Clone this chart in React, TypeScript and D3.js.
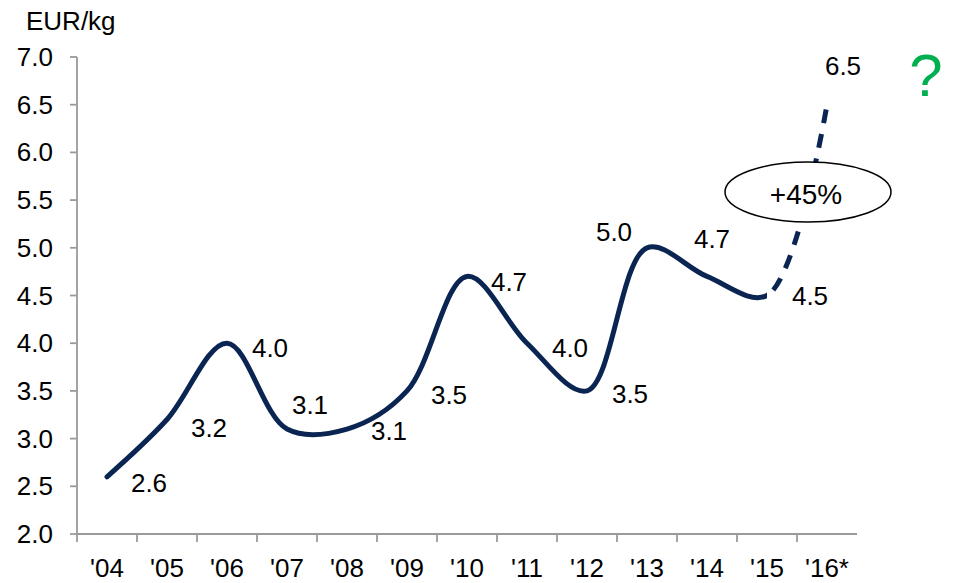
import React from "react";
import * as d3 from "d3";

// data
const years = ["'04", "'05", "'06", "'07", "'08", "'09", "'10", "'11", "'12", "'13", "'14", "'15", "'16*"];
const prices = [2.6, 3.2, 4.0, 3.1, 3.1, 3.5, 4.7, 4.0, 3.5, 5.0, 4.7, 4.5, 6.5];
const yTicks = [2.0, 2.5, 3.0, 3.5, 4.0, 4.5, 5.0, 5.5, 6.0, 6.5, 7.0];
// where each value label sits relative to its point
const labelOffsets: [number, number][] = [
  [42, 6], [42, 8], [43, 5], [23, -24], [42, 2], [42, 4], [42, 6],
  [43, 5], [43, 3], [-33, -16], [5, -37], [43, 0], [16, -39],
];
const forecastFrom = 11; // '15 -> '16* is dashed

const W = 955;
const H = 583;
const margin = { left: 77, right: 98, top: 57, bottom: 49 };
const navy = "#0a2552";
const axisGray = "#9a9a9a";
const font = "'Liberation Sans', Arial, sans-serif";
const fs = 26;

export default function App() {
  const x = d3
    .scaleBand<string>()
    .domain(years)
    .range([margin.left, W - margin.right]);
  const y = d3
    .scaleLinear()
    .domain([2, 7])
    .range([H - margin.bottom, margin.top]);

  const pts: [number, number][] = prices.map((v, i) => [x(years[i])! + x.bandwidth() / 2, y(v)]);
  const line = d3.line().curve(d3.curveCatmullRom.alpha(0.5));
  const path = line(pts) || "";
  const splitX = pts[forecastFrom][0];

  return (
    <svg width={W} height={H} style={{ position: "absolute", left: 0, top: 0 }} fontFamily={font}>
      <defs>
        <clipPath id="solid">
          <rect x={0} y={0} width={splitX} height={H} />
        </clipPath>
        <clipPath id="dashed">
          <rect x={splitX} y={0} width={W - splitX} height={H} />
        </clipPath>
      </defs>

      {/* unit */}
      <text x={26} y={30} fontSize={fs} fill="#000">EUR/kg</text>

      {/* y axis */}
      <line x1={margin.left} x2={margin.left} y1={y(7)} y2={y(2)} stroke={axisGray} strokeWidth={1.8} />
      {yTicks.map((t) => (
        <g key={t}>
          <line x1={margin.left - 7} x2={margin.left} y1={y(t)} y2={y(t)} stroke={axisGray} strokeWidth={1.8} />
          <text x={53} y={y(t)} textAnchor="end" dominantBaseline="central" fontSize={fs} fill="#000">
            {d3.format(".1f")(t)}
          </text>
        </g>
      ))}

      {/* x axis */}
      <line x1={margin.left} x2={W - margin.right} y1={y(2)} y2={y(2)} stroke={axisGray} strokeWidth={1.8} />
      {years.map((yr) => (
        <g key={yr}>
          <line x1={x(yr)!} x2={x(yr)!} y1={y(2)} y2={y(2) + 8} stroke={axisGray} strokeWidth={1.8} />
          <text x={x(yr)! + x.bandwidth() / 2} y={577} textAnchor="middle" fontSize={fs} fill="#000">
            {yr}
          </text>
        </g>
      ))}

      {/* price line */}
      <path d={path} fill="none" stroke={navy} strokeWidth={5} strokeLinecap="round" clipPath="url(#solid)" />
      <path
        d={path}
        fill="none"
        stroke={navy}
        strokeWidth={5}
        strokeDasharray="14 11"
        clipPath="url(#dashed)"
      />

      {/* value labels */}
      {prices.map((v, i) => (
        <text
          key={i}
          x={pts[i][0] + labelOffsets[i][0]}
          y={pts[i][1] + labelOffsets[i][1]}
          textAnchor="middle"
          dominantBaseline="central"
          fontSize={fs}
          fill="#000"
        >
          {d3.format(".1f")(v)}
        </text>
      ))}

      {/* growth callout */}
      <ellipse cx={808} cy={192} rx={83} ry={30} fill="#fff" stroke="#000" strokeWidth={1.5} />
      <text x={806} y={194} textAnchor="middle" dominantBaseline="central" fontSize={28} fill="#000">
        +45%
      </text>
      <text x={926} y={96} textAnchor="middle" fontSize={60} fill="#00b050">?</text>
    </svg>
  );
}
